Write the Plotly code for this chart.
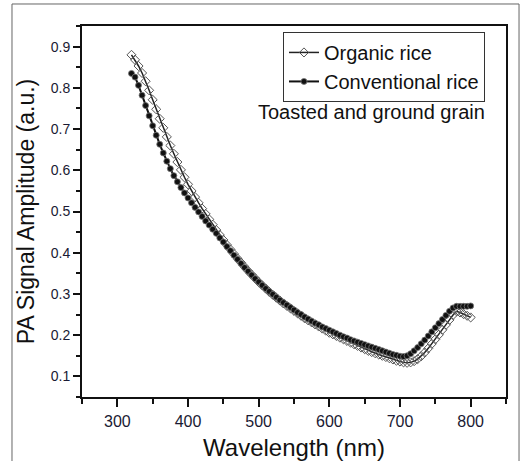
import plotly.graph_objects as go

wavelength = list(range(320, 801, 5))

organic = [
    0.880, 0.868, 0.853, 0.836, 0.816, 0.794, 0.771, 0.748, 0.725, 0.703,
    0.681, 0.660, 0.640, 0.620, 0.601, 0.583, 0.566, 0.550, 0.535, 0.521,
    0.507, 0.494, 0.481, 0.468, 0.455, 0.443, 0.431, 0.419, 0.408, 0.397,
    0.386, 0.376, 0.366, 0.356, 0.347, 0.338, 0.329, 0.321, 0.313, 0.305,
    0.298, 0.291, 0.284, 0.277, 0.271, 0.265, 0.259, 0.253, 0.247, 0.241,
    0.236, 0.231, 0.226, 0.221, 0.216, 0.211, 0.206, 0.202, 0.198, 0.194,
    0.190, 0.186, 0.182, 0.178, 0.174, 0.170, 0.166, 0.162, 0.159, 0.156,
    0.153, 0.150, 0.147, 0.144, 0.141, 0.138, 0.136, 0.134, 0.133, 0.134,
    0.137, 0.142, 0.149, 0.158, 0.168, 0.179, 0.190, 0.201, 0.213, 0.225,
    0.237, 0.249, 0.258, 0.255, 0.251, 0.247, 0.243,
]

conventional = [
    0.835, 0.826, 0.806, 0.782, 0.757, 0.732, 0.708, 0.685, 0.663, 0.642,
    0.622, 0.604, 0.587, 0.572, 0.558, 0.545, 0.533, 0.521, 0.510, 0.499,
    0.488, 0.477, 0.467, 0.457, 0.447, 0.436, 0.426, 0.415, 0.405, 0.394,
    0.384, 0.374, 0.364, 0.355, 0.346, 0.337, 0.329, 0.321, 0.313, 0.306,
    0.299, 0.292, 0.285, 0.279, 0.273, 0.267, 0.261, 0.255, 0.250, 0.244,
    0.239, 0.234, 0.229, 0.225, 0.220, 0.216, 0.212, 0.208, 0.204, 0.200,
    0.196, 0.193, 0.189, 0.186, 0.183, 0.180, 0.177, 0.174, 0.171, 0.168,
    0.165, 0.162, 0.159, 0.156, 0.153, 0.151, 0.149, 0.148, 0.150, 0.155,
    0.162, 0.170, 0.179, 0.188, 0.198, 0.208, 0.218, 0.228, 0.238, 0.248,
    0.258, 0.266, 0.270, 0.270, 0.270, 0.270, 0.271,
]

x_ticks = [300, 400, 500, 600, 700, 800]
y_ticks = [0.1, 0.2, 0.3, 0.4, 0.5, 0.6, 0.7, 0.8, 0.9]

FONT = "Liberation Sans, Arial, sans-serif"

fig = go.Figure()
fig.add_trace(go.Scatter(
    x=wavelength, y=organic, name="Organic rice", mode="lines+markers",
    line=dict(color="#222", width=1.5),
    marker=dict(symbol="diamond-open", size=7, color="#555", line=dict(width=1, color="#555")),
))
fig.add_trace(go.Scatter(
    x=wavelength, y=conventional, name="Conventional rice", mode="lines+markers",
    line=dict(color="#111", width=2),
    marker=dict(symbol="circle", size=6, color="#111", line=dict(width=0.8, color="#777")),
))

fig.update_layout(
    width=526, height=461,
    margin=dict(l=82, r=20, t=26, b=64, autoexpand=False),
    paper_bgcolor="white", plot_bgcolor="white",
    font=dict(family=FONT, color="#111"),
    showlegend=True,
    legend=dict(
        x=0.474, y=0.984, xanchor="left", yanchor="top",
        bordercolor="#333", borderwidth=1, bgcolor="rgba(255,255,255,0)",
        font=dict(size=20, family=FONT, color="#111"),
        itemwidth=30, tracegroupgap=0,
    ),
    xaxis=dict(
        range=[250, 850], tickvals=x_ticks, ticks="outside", ticklen=8, tickwidth=1.5,
        tickcolor="#111", showline=True, linecolor="#111", linewidth=2, mirror=True,
        showgrid=False, zeroline=False, automargin=False, ticklabelstandoff=1,
        tickfont=dict(size=16, family=FONT, color="#1a1a33"),
        minor=dict(ticks="outside", ticklen=5, tickwidth=1.5, tickcolor="#111", dtick=50, tick0=250, showgrid=False),
        title=dict(text="Wavelength (nm)", font=dict(size=24, family=FONT, color="#111"), standoff=13),
    ),
    yaxis=dict(
        range=[0.05, 0.95], tickvals=y_ticks, ticks="outside", ticklen=7, tickwidth=1.5,
        tickcolor="#111", showline=True, linecolor="#111", linewidth=2, mirror=True,
        showgrid=False, zeroline=False, tickformat=".1f", automargin=False,
        tickfont=dict(size=14, family=FONT, color="#1a1a33"),
        minor=dict(ticks="outside", ticklen=4, tickwidth=1.5, tickcolor="#111", dtick=0.05, tick0=0.05, showgrid=False),
        title=dict(text="PA Signal Amplitude (a.u.)", font=dict(size=23, family=FONT, color="#111"), standoff=10),
    ),
    annotations=[dict(
        text="Toasted and ground grain", xref="paper", yref="paper",
        x=0.955, y=0.768, xanchor="right", yanchor="middle", showarrow=False,
        font=dict(size=20, family=FONT, color="#111"),
    )],
    shapes=[dict(
        type="rect", xref="paper", yref="paper",
        x0=-0.1651, x1=1.0307, y0=-0.3, y1=1.0593,
        line=dict(color="#666", width=1), fillcolor="rgba(0,0,0,0)", layer="below",
    )],
)

fig.write_html(
    "out.html",
    config={"displayModeBar": False},
    post_script="document.body.style.margin='0';document.body.style.overflow='hidden';",
)
